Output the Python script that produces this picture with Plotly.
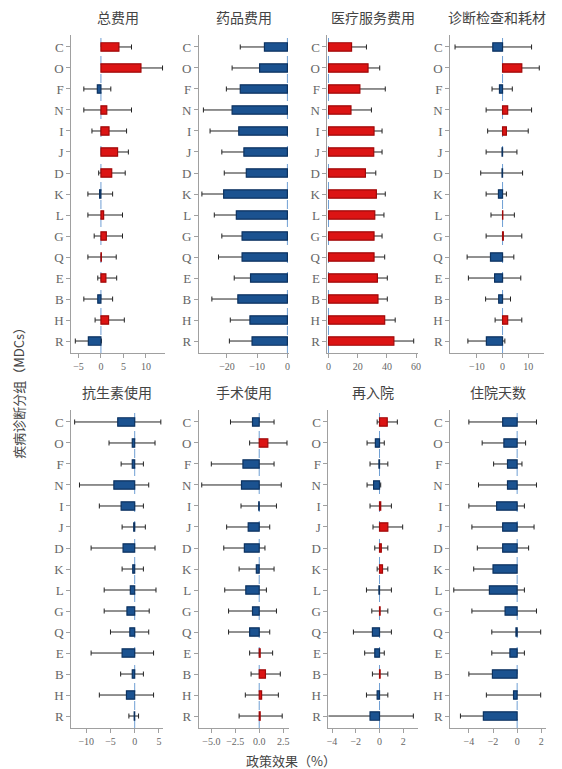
import plotly.graph_objects as go

# MDC categories, listed top to bottom
mdcs = ["C", "O", "F", "N", "I", "J", "D", "K", "L", "G", "Q", "E", "B", "H", "R"]

panel_titles = ["总费用", "药品费用", "医疗服务费用", "诊断检查和耗材",
                "抗生素使用", "手术使用", "再入院", "住院天数"]

# Policy effect (%) with lower / upper confidence limits, one set per outcome
total_est = [4.0, 8.9, -0.8, 1.3, 1.8, 3.7, 2.4, -0.3, 0.6, 1.2, 0.1, 1.1, -0.7, 1.7, -2.8]
total_lo = [1.0, 4.2, -3.8, -3.8, -2.0, 1.3, -0.5, -2.9, -2.9, -1.5, -2.9, -0.7, -3.8, -1.3, -5.7]
total_hi = [6.8, 13.7, 2.2, 6.8, 5.7, 6.1, 5.4, 2.6, 4.8, 4.8, 3.4, 3.5, 2.6, 5.2, 0.1]

drug_est = [-7.6, -9.2, -15.6, -18.3, -16.1, -14.4, -13.6, -21.1, -16.9, -15.0, -15.0, -12.2, -16.4, -12.4, -11.7]
drug_lo = [-15.6, -18.3, -20.2, -27.8, -25.6, -21.7, -20.9, -28.3, -24.2, -21.7, -22.8, -17.6, -25.0, -18.9, -19.2]
drug_hi = [-0.3, -0.6, -11.0, -8.8, -6.6, -7.1, -6.3, -13.9, -9.6, -8.3, -7.2, -6.8, -7.8, -5.9, -4.2]

service_est = [15.8, 27.1, 21.5, 15.4, 31.2, 31.0, 25.3, 32.8, 31.7, 31.2, 31.2, 33.5, 33.9, 38.5, 44.8]
service_lo = [5.6, 19.1, 4.1, 1.4, 25.7, 25.3, 18.2, 26.7, 25.4, 25.7, 23.9, 26.7, 27.5, 31.3, 31.2]
service_hi = [26.0, 35.1, 38.9, 29.4, 36.7, 36.7, 32.4, 38.9, 38.0, 36.7, 38.5, 40.3, 40.3, 45.7, 58.4]

exam_est = [-3.8, 7.5, -1.2, 2.0, 1.5, -0.2, -0.2, -1.6, 0.1, 0.3, -4.7, -3.1, -1.5, 2.0, -6.3]
exam_lo = [-18.5, 0.7, -4.1, -6.4, -5.8, -6.4, -8.5, -6.4, -4.5, -6.4, -13.8, -13.3, -6.6, -2.9, -13.5]
exam_hi = [11.3, 14.3, 3.8, 11.3, 10.0, 5.6, 7.8, 1.5, 4.6, 7.5, 4.4, 7.1, 3.1, 7.5, 0.9]

antibiotic_est = [-3.5, -0.5, -0.5, -4.3, -2.8, -0.2, -2.4, -0.4, -0.9, -1.6, -1.0, -2.6, -0.5, -1.7, -0.1]
antibiotic_lo = [-12.4, -5.3, -2.8, -11.4, -7.3, -2.6, -9.0, -2.6, -6.3, -6.3, -5.0, -9.0, -2.9, -7.3, -1.2]
antibiotic_hi = [5.4, 4.2, 1.8, 2.9, 1.8, 2.2, 4.2, 1.8, 4.4, 3.0, 2.9, 3.9, 1.8, 3.9, 0.8]

surgery_est = [-0.7, 0.9, -1.7, -1.85, -0.05, -1.15, -1.55, -0.3, -1.4, -0.7, -1.0, 0.1, 0.65, 0.25, 0.1]
surgery_lo = [-3.0, -1.0, -5.0, -6.0, -1.9, -3.4, -3.7, -2.1, -3.6, -3.2, -3.2, -1.0, -0.85, -1.45, -2.1]
surgery_hi = [1.55, 2.9, 1.55, 2.3, 1.8, 1.1, 0.6, 1.55, 0.75, 1.8, 1.1, 1.4, 2.2, 2.0, 2.4]

readmit_est = [0.65, -0.35, -0.05, -0.5, 0.1, 0.7, 0.15, 0.25, -0.05, 0.05, -0.6, -0.4, 0.05, -0.2, -0.8]
readmit_lo = [-0.2, -1.05, -0.8, -1.05, -0.8, -0.55, -0.4, -0.2, -1.1, -0.65, -2.2, -1.25, -0.6, -1.1, -4.4]
readmit_hi = [1.5, 0.4, 0.7, 0.1, 1.0, 1.95, 0.7, 0.7, 1.0, 0.7, 1.0, 0.4, 0.7, 0.7, 2.85]

los_est = [-1.2, -1.1, -0.8, -0.8, -1.7, -1.2, -1.2, -2.0, -2.3, -1.0, -0.1, -0.6, -2.05, -0.3, -2.8]
los_lo = [-4.0, -2.9, -1.95, -3.2, -4.0, -3.75, -3.3, -3.6, -5.25, -3.75, -2.1, -2.1, -4.0, -2.55, -4.7]
los_hi = [1.6, 0.7, 0.4, 1.6, 0.6, 1.4, 0.95, -0.1, 0.6, 1.6, 1.95, 0.6, -0.1, 1.95, -0.9]

panels = [
    (total_est, total_lo, total_hi),
    (drug_est, drug_lo, drug_hi),
    (service_est, service_lo, service_hi),
    (exam_est, exam_lo, exam_hi),
    (antibiotic_est, antibiotic_lo, antibiotic_hi),
    (surgery_est, surgery_lo, surgery_hi),
    (readmit_est, readmit_lo, readmit_hi),
    (los_est, los_lo, los_hi),
]

x_ranges = [[-6.6, 14.3], [-29.3, 0.5], [-0.7, 61], [-20.4, 16.2],
            [-13.1, 5.9], [-6.3, 3.1], [-4.3, 3.2], [-5.55, 2.4]]
x_ticks = [[-5, 0, 5, 10], [-20, -10, 0], [0, 20, 40, 60], [-10, 0, 10],
           [-10, -5, 0, 5], [-5, -2.5, 0, 2.5], [-4, -2, 0, 2], [-4, -2, 0, 2]]

W, H = 562, 769
col_px = [[(70, 165), (199, 290), (329, 420), (453, 548)],
          [(70, 163), (199, 290), (330, 420), (453, 550)]]
row_px = [(35, 353), (410, 728)]

FONT = "Liberation Serif, Noto Sans CJK SC, serif"
CJK = "Noto Sans CJK SC, sans-serif"
TXT = "#666666"
AX = "#a0a0a0"

POS_FILL, POS_LINE = "#dc1414", "#a00808"
NEG_FILL, NEG_LINE = "#1b5290", "#0c3260"
BAR_W = 0.4

fig = go.Figure()
layout = {}
shapes = []
annotations = []

for i, (est, lo, hi) in enumerate(panels):
    r, c = divmod(i, 4)
    n = i + 1
    xa = "x" if n == 1 else f"x{n}"
    ya = "y" if n == 1 else f"y{n}"
    fills = [POS_FILL if v > 0 else NEG_FILL for v in est]
    lines = [POS_LINE if v > 0 else NEG_LINE for v in est]
    # confidence intervals first, so the filled bars sit on top of them
    fig.add_trace(go.Bar(
        x=est, y=mdcs, orientation="h", base=0, width=BAR_W,
        marker=dict(color="rgba(0,0,0,0)", line=dict(width=0)),
        error_x=dict(type="data", symmetric=False,
                     array=[h - e for h, e in zip(hi, est)],
                     arrayminus=[e - l for e, l in zip(est, lo)],
                     color="#222222", thickness=1, width=2.5),
        xaxis=xa, yaxis=ya, showlegend=False, hoverinfo="skip",
    ))
    fig.add_trace(go.Bar(
        x=est, y=mdcs, orientation="h", base=0, width=BAR_W,
        marker=dict(color=fills, line=dict(color=lines, width=1.2)),
        xaxis=xa, yaxis=ya, showlegend=False, hoverinfo="x+y",
    ))

    x0, x1 = col_px[r][c]
    yt, yb = row_px[r]
    xkey = "xaxis" if n == 1 else f"xaxis{n}"
    ykey = "yaxis" if n == 1 else f"yaxis{n}"
    tickfmt = ".1f" if n == 6 else ""
    layout[xkey] = dict(
        domain=[x0 / W, x1 / W], anchor=ya, range=x_ranges[i],
        tickvals=x_ticks[i], tickformat=tickfmt,
        showline=True, linecolor=AX, linewidth=1, ticks="outside",
        ticklen=4, tickcolor=AX, showgrid=False, zeroline=False,
        tickfont=dict(family=FONT, size=10, color=TXT),
    )
    layout[ykey] = dict(
        domain=[1 - yb / H, 1 - yt / H], anchor=xa, type="category",
        categoryorder="array", categoryarray=mdcs, range=[14.57, -0.57],
        showline=True, linecolor=AX, linewidth=1, ticks="outside",
        ticklen=4, tickcolor=AX, showgrid=False, zeroline=False,
        tickfont=dict(family=FONT, size=13, color=TXT),
    )
    # dashed reference line at zero effect
    shapes.append(dict(type="line", xref=xa, yref=f"{ya} domain",
                       x0=0, x1=0, y0=0, y1=1, layer="below",
                       line=dict(color="#6f9fd4", width=1, dash="dash")))
    annotations.append(dict(
        text=panel_titles[i], xref="paper", yref="paper",
        x=(x0 + x1) / 2 / W, y=1 - (yt - 18) / H, showarrow=False,
        xanchor="center", yanchor="middle",
        font=dict(family=CJK, size=14, color="#444444")))

annotations.append(dict(
    text="疾病诊断分组（MDCs）", xref="paper", yref="paper",
    x=16 / W, y=1 - 390 / H, textangle=-90, showarrow=False,
    xanchor="center", yanchor="middle",
    font=dict(family=CJK, size=13, color="#444444")))
annotations.append(dict(
    text="政策效果（%）", xref="paper", yref="paper",
    x=292 / W, y=1 - 760 / H, showarrow=False,
    xanchor="center", yanchor="middle",
    font=dict(family=CJK, size=13, color="#444444")))

fig.update_layout(
    width=W, height=H,
    margin=dict(l=0, r=0, t=0, b=0),
    paper_bgcolor="white", plot_bgcolor="white",
    barmode="overlay", shapes=shapes, annotations=annotations,
    **layout,
)

fig.write_html("out.html")
